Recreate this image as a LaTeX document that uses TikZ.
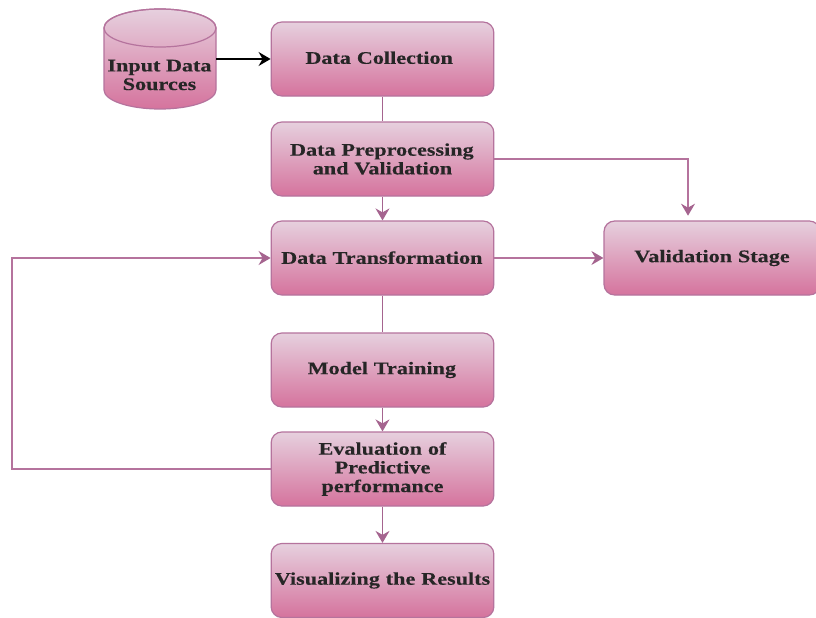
\documentclass[tikz,border=0pt]{standalone}
\usepackage{fontspec}
\setmainfont[FakeStretch=1.25,FakeBold=0.3]{Liberation Serif}
\usetikzlibrary{arrows.meta,positioning}
\definecolor{topc}{HTML}{E6D0DE}
\definecolor{botc}{HTML}{D5739D}
\definecolor{linec}{HTML}{B5739D}
\definecolor{arrc}{HTML}{A5648F}
\tikzset{
  x=0.75pt,y=-0.75pt,
  boxnode/.style={draw=linec,line width=0.9pt,rounded corners=8pt,top color=topc,bottom color=botc,
    minimum width=167pt,minimum height=55.5pt,inner sep=0pt,align=center,text width=165pt,
    text=black!85,font=\fontsize{13.3}{14}\selectfont\bfseries},
  lbl/.style={inner sep=0pt,align=center,text=black!85,font=\fontsize{13.3}{14}\selectfont\bfseries},
  conn/.style={draw=linec,line width=0.9pt},
  vconn/.style={draw=arrc,line width=1.2pt},
  tipped/.style={-{Stealth[length=9pt,width=10.5pt,inset=3pt,color=arrc,fill=arrc]}},
}
\begin{document}
\begin{tikzpicture}
\useasboundingbox (0,0) rectangle (816,617);
\fill[white] (0,0) rectangle (816,617);
% cylinder
\path[draw=linec,line width=0.9pt,top color=topc,bottom color=botc]
  (216,28) arc[x radius=56,y radius=19,start angle=0,end angle=-180]
  -- (104,90) arc[x radius=56,y radius=19,start angle=180,end angle=0] -- cycle;
\draw[linec,line width=0.9pt] (160,28) ellipse[x radius=56,y radius=19];
\node[lbl,minimum width=84pt,minimum height=75pt] (src) at (160,59) {};
\node[lbl] (srct) at (159.5,75) {Input Data\\Sources};
\node[boxnode] (a) at (382.5,59) {\raisebox{2pt}{\hspace*{-5pt}Data Collection}};
\node[boxnode] (b) at (382.5,159) {\hspace*{-1pt}Data Preprocessing\\and Validation};
\node[boxnode] (c) at (382.5,258) {\raisebox{0.7pt}{\hspace*{-1pt}Data Transformation}};
\node[boxnode] (d) at (382.5,370) {\hspace*{-1pt}Model Training};
\node[boxnode] (e) at (382.5,469) {\raisebox{-0.7pt}{\parbox{165pt}{\centering Evaluation of\\Predictive\\performance}}};
\node[boxnode] (f) at (382.5,580.5) {\raisebox{-0.7pt}{Visualizing the Results}};
\node[boxnode,minimum width=162pt,text width=160pt] (v) at (712,258) {Validation Stage};
\coordinate (v1) at (688,221);
\coordinate (l1) at (12,469);
\coordinate (l2) at (12,258);
\draw[black,line width=1pt,-{Stealth[length=9pt,width=10.5pt,inset=3pt]}] (src.east) -- (a.west);
\draw[vconn] (a) -- (b);
\draw[vconn,tipped] (b) -- (c);
\draw[vconn] (c) -- (d);
\draw[vconn,tipped] (d) -- (e);
\draw[vconn,tipped] (e) -- (f);
\draw[conn,tipped] (c) -- (v);
\draw[conn,tipped] (b.east) -| ([yshift=4pt]v1);
\draw[conn,tipped] (e.west) -- (l1) -- (l2) -- (c.west);
\end{tikzpicture}
\end{document}
